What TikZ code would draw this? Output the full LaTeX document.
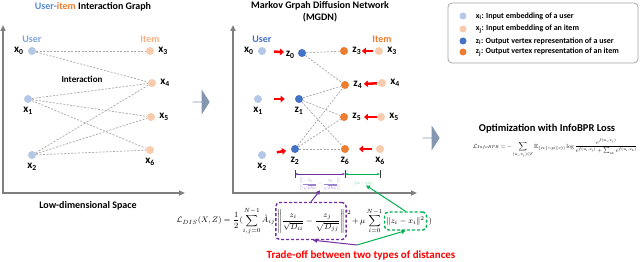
\documentclass[tikz,border=0pt]{standalone}
\usepackage{amsmath}
\usepackage{amssymb}
\usepackage{graphicx}
\usepackage[no-math]{fontspec}
\setmainfont{Carlito}
\usetikzlibrary{calc}
\usetikzlibrary{positioning}
\usetikzlibrary{shapes.arrows}
\usetikzlibrary{arrows.meta}

\definecolor{ulight}{HTML}{B4C7E7}
\definecolor{ilight}{HTML}{F8CBAD}
\definecolor{zblue}{HTML}{4472C4}
\definecolor{zorange}{HTML}{ED7D31}
\definecolor{ulabel}{HTML}{7FA3DD}
\definecolor{ilabel}{HTML}{F4B183}
\definecolor{titleblue}{HTML}{5A8AD6}
\definecolor{edgegray}{HTML}{A6A6A6}
\definecolor{axisgray}{HTML}{7F7F7F}
\definecolor{arrowgray}{HTML}{8497B0}
\definecolor{legendgray}{HTML}{A5A5A5}
\definecolor{ppurple}{HTML}{7030A0}
\definecolor{plight}{HTML}{9C84CC}
\definecolor{ggreen}{HTML}{00B050}
\definecolor{glight}{HTML}{4CC47A}

\tikzset{
  unode/.style={circle, fill=ulight, minimum size=8pt, inner sep=0pt},
  inode/.style={circle, fill=ilight, minimum size=8pt, inner sep=0pt},
  zunode/.style={circle, fill=zblue, minimum size=8pt, inner sep=0pt},
  zinode/.style={circle, fill=zorange, minimum size=8pt, inner sep=0pt},
  lbl/.style={font=\fontsize{11}{12}\selectfont\bfseries, inner sep=1pt},
  head/.style={font=\fontsize{10}{12}\selectfont\bfseries, align=center},
  legtext/.style={font=\fontsize{8}{9}\selectfont\bfseries, inner sep=0pt},
  edge/.style={draw=edgegray, line width=0.7pt, dash pattern=on 2pt off 1.5pt},
  axis/.style={draw=axisgray, line width=1.5pt},
  redarrow/.style={draw=red, line width=2.5pt, -{Triangle[length=4pt,width=6.5pt]}},
  bigarrow/.style={single arrow, fill=arrowgray, minimum height=17pt, minimum width=25pt,
    single arrow head extend=5pt, single arrow tip angle=115, inner sep=0pt},
  dis/.style={inner sep=0pt, font=\fontsize{8}{10}\selectfont},
  pbox/.style={draw=ppurple, line width=1.4pt, dash pattern=on 3pt off 2pt, rounded corners=4pt,
    inner sep=1.5pt, minimum width=66pt, minimum height=37pt},
  gbox/.style={draw=ggreen, line width=1.4pt, dash pattern=on 3pt off 2pt, rounded corners=4pt,
    inner sep=2pt, minimum width=37pt, minimum height=18pt},
  parrow/.style={draw=ppurple, line width=1pt, -{Triangle[length=4pt,width=4pt]}},
  garrow/.style={draw=ggreen, line width=1pt, -{Triangle[length=4pt,width=4pt]}},
}

\begin{document}
\begin{tikzpicture}[x=1pt, y=-1pt]
  \useasboundingbox (0,0) rectangle (640,262);

  % left panel: interaction graph
  \node[head] (title1) at (93,7) {\textcolor{titleblue}{User-}\textcolor{zorange}{item} Interaction Graph};
  \coordinate (O1) at (3,193);
  \coordinate (Y1) at (3,25);
  \coordinate (X1) at (185,193);
  \draw[axis, {Triangle[length=6pt,width=5pt]}-{Triangle[length=6pt,width=5pt]}] (Y1) -- (O1) -- (X1);
  \node[head] (space) at (88,206) {Low-dimensional Space};

  \node[head, text=ulabel] (user1) at (32,39) {User};
  \node[head, text=ilabel] (item1) at (150,39) {Item};
  \node[head, font=\fontsize{9}{10}\selectfont\bfseries] (inter) at (82,79) {Interaction};

  \node[unode] (g0) at (32,51) {};
  \node[unode] (g1) at (28,99) {};
  \node[unode] (g2) at (32,155) {};
  \node[inode] (g3) at (150,51) {};
  \node[inode] (g4) at (152,83) {};
  \node[inode] (g5) at (151,117) {};
  \node[inode] (g6) at (150,150) {};

  \node[lbl, left=3pt of g0] (lg0) {x\textsubscript{0}};
  \node[lbl, below=3pt of g1] (lg1) {x\textsubscript{1}};
  \node[lbl, below=3pt of g2] (lg2) {x\textsubscript{2}};
  \node[lbl, right=3pt of g3] (lg3) {x\textsubscript{3}};
  \node[lbl, right=3pt of g4] (lg4) {x\textsubscript{4}};
  \node[lbl, right=3pt of g5] (lg5) {x\textsubscript{5}};
  \node[lbl, below=3pt of g6] (lg6) {x\textsubscript{6}};

  \draw[edge] (g0) -- (g3);
  \draw[edge] (g0) -- (g4);
  \draw[edge] (g1) -- (g4);
  \draw[edge] (g1) -- (g5);
  \draw[edge] (g1) -- (g6);
  \draw[edge] (g2) -- (g4);
  \draw[edge] (g2) -- (g5);
  \draw[edge] (g2) -- (g6);

  \node[bigarrow] (step1) at (201,102) {};

  % middle panel: MGDN
  \node[head] (title2) at (320,12) {Markov Grpah Diffusion Network\\(MGDN)};
  \coordinate (O2) at (233,193);
  \coordinate (Y2) at (233,25);
  \coordinate (X2) at (417,193);
  \draw[axis, {Triangle[length=6pt,width=5pt]}-{Triangle[length=6pt,width=5pt]}] (Y2) -- (O2) -- (X2);

  \node[head, text=zblue] (user2) at (262,39) {User};
  \node[head, text=zorange] (item2) at (382,39) {Item};

  \node[unode] (x0) at (262,51) {};
  \node[unode] (x1) at (258,99) {};
  \node[unode] (x2) at (262,155) {};
  \node[inode] (x3) at (379,51) {};
  \node[inode] (x4) at (382,83) {};
  \node[inode] (x5) at (381,117) {};
  \node[inode] (x6) at (380,149) {};

  \node[zunode] (z0) at (302,53) {};
  \node[zunode] (z1) at (299,99) {};
  \node[zunode] (z2) at (295,149) {};
  \node[zinode] (z3) at (344,51) {};
  \node[zinode] (z4) at (345,85) {};
  \node[zinode] (z5) at (344,117) {};
  \node[zinode] (z6) at (345,149) {};

  \node[lbl, left=3pt of x0] (lx0) {x\textsubscript{0}};
  \node[lbl, below=3pt of x1] (lx1) {x\textsubscript{1}};
  \node[lbl, below=3pt of x2] (lx2) {x\textsubscript{2}};
  \node[lbl, right=3pt of x3] (lx3) {x\textsubscript{3}};
  \node[lbl, right=3pt of x4] (lx4) {x\textsubscript{4}};
  \node[lbl, right=3pt of x5] (lx5) {x\textsubscript{5}};
  \node[lbl, below=3pt of x6] (lx6) {x\textsubscript{6}};
  \node[lbl, left=2pt of z0, yshift=-2pt] (lz0) {z\textsubscript{0}};
  \node[lbl, below=3pt of z1] (lz1) {z\textsubscript{1}};
  \node[lbl, below=3pt of z2] (lz2) {z\textsubscript{2}};
  \node[lbl, right=3pt of z3] (lz3) {z\textsubscript{3}};
  \node[lbl, right=3pt of z4] (lz4) {z\textsubscript{4}};
  \node[lbl, right=3pt of z5] (lz5) {z\textsubscript{5}};
  \node[lbl, below=3pt of z6] (lz6) {z\textsubscript{6}};

  \draw[edge] (z0) -- (z3);
  \draw[edge] (z0) -- (z4);
  \draw[edge] (z1) -- (z4);
  \draw[edge] (z1) -- (z5);
  \draw[edge] (z1) -- (z6);
  \draw[edge] (z2) -- (z4);
  \draw[edge] (z2) -- (z5);
  \draw[edge] (z2) -- (z6);

  \draw[redarrow] ($(x0)!0.3!(z0)$) -- ($(x0)!0.55!(z0)$);
  \draw[redarrow] ($(x1)!0.4!(z1)$) -- ($(x1)!0.65!(z1)$);
  \draw[redarrow] ($(x2)!0.45!(z2)$) -- ($(x2)!0.73!(z2)$);
  \draw[redarrow] ($(x3)!0.17!(z3)$) -- ($(x3)!0.49!(z3)$);
  \draw[redarrow] ($(x4)!0.14!(z4)$) -- ($(x4)!0.49!(z4)$);
  \draw[redarrow] ($(x5)!0.11!(z5)$) -- ($(x5)!0.46!(z5)$);
  \draw[redarrow] ($(x6)!0.23!(z6)$) -- ($(x6)!0.6!(z6)$);

  % distance bars
  \coordinate (b2) at (z2 |- 0,174);
  \coordinate (b6) at (z6 |- 0,174);
  \coordinate (bx6) at (x6 |- 0,174);
  \draw[line width=0.8pt, black!75] ([yshift=4pt]b2) -- ([yshift=-4pt]b2);
  \draw[line width=0.8pt, black!75] ([yshift=4pt]b6) -- ([yshift=-4pt]b6);
  \draw[line width=0.8pt, black!75] ([yshift=4pt]bx6) -- ([yshift=-4pt]bx6);
  \draw[ppurple, line width=1pt, {Stealth[length=3pt]}-{Stealth[length=3pt]}] (b2) -- (b6);
  \draw[ggreen, line width=1pt, {Stealth[length=3pt]}-{Stealth[length=3pt]}] (b6) -- (bx6);
  \node[text=plight, inner sep=0pt] (pd) at (320,184)
    {\resizebox{40pt}{!}{$\displaystyle\left\|\frac{z_2}{\sqrt{D_{22}}}-\frac{z_6}{\sqrt{D_{66}}}\right\|$}};
  \node[text=glight, inner sep=0pt] (gd) at (363,183)
    {\resizebox{18pt}{!}{$\|z_6-x_6\|$}};

  % distance loss
  \node[dis, pbox] (fracbox) at (311,221)
    {$\displaystyle\left\|\frac{z_i}{\sqrt{D_{ii}}}-\frac{z_j}{\sqrt{D_{jj}}}\right\|$};
  \node[dis, left=0pt of fracbox] (lhs)
    {$\displaystyle\mathcal{L}_{DIS}(X,Z)=\frac{1}{2}(\sum_{i,j=0}^{N-1}\hat{A}_{ij}$};
  \node[dis, right=0pt of fracbox] (mid)
    {\raisebox{9pt}{$\scriptstyle 2$}$\displaystyle\,+\,\mu\sum_{i=0}^{N-1}$};
  \node[dis, gbox, right=1pt of mid] (normbox) {$\|z_i-x_i\|^2$};
  \node[dis, right=1pt of normbox] (rpar) {$)$};

  \draw[parrow] (fracbox.north) -- (pd.south);
  \draw[garrow] (normbox.north) -- ([xshift=3pt]gd.south);
  \node[font=\fontsize{11}{12}\selectfont\bfseries, text=red] (trade) at (361,255)
    {Trade-off between two types of distances};
  \coordinate (split) at (357,245);
  \draw[parrow] (split) -- ([xshift=2pt]fracbox.south);
  \draw[garrow] (split) -- (normbox.south);

  \node[bigarrow] (step2) at (431,138) {};

  % legend
  \draw[legendgray, line width=0.8pt, rounded corners=4pt] (448,3) rectangle (638,63);
  \node[unode, minimum size=7pt] (k1) at (463,16) {};
  \node[inode, minimum size=7pt] (k2) at (463,29) {};
  \node[zunode, minimum size=7pt] (k3) at (463,41) {};
  \node[zinode, minimum size=7pt] (k4) at (463,52) {};
  \node[legtext, right=9pt of k1] (kt1) {x\textsubscript{i}: Input embedding of a user};
  \node[legtext, right=9pt of k2] (kt2) {x\textsubscript{j}: Input embedding of an item};
  \node[legtext, right=9pt of k3] (kt3) {z\textsubscript{i}: Output vertex representation of a user};
  \node[legtext, right=9pt of k4] (kt4) {z\textsubscript{j}: Output vertex representation of an item};

  % right: optimization
  \node[head, font=\fontsize{10.5}{12}\selectfont\bfseries] (opt) at (547,129) {Optimization with InfoBPR Loss};
  \node[inner sep=0pt, anchor=west] (bpr) at (473,148)
    {\resizebox{164pt}{!}{$\displaystyle\mathcal{L}_{InfoBPR}=-\sum_{(u_i,v_j)\in\mathcal{E}}\mathbb{E}_{\{v_k\}\sim p(\{v\})}\log\frac{e^{f(u_i,v_j)}}{e^{f(u_i,v_j)}+\sum_{v_k}e^{f(u_i,v_k)}}$}};
\end{tikzpicture}
\end{document}
